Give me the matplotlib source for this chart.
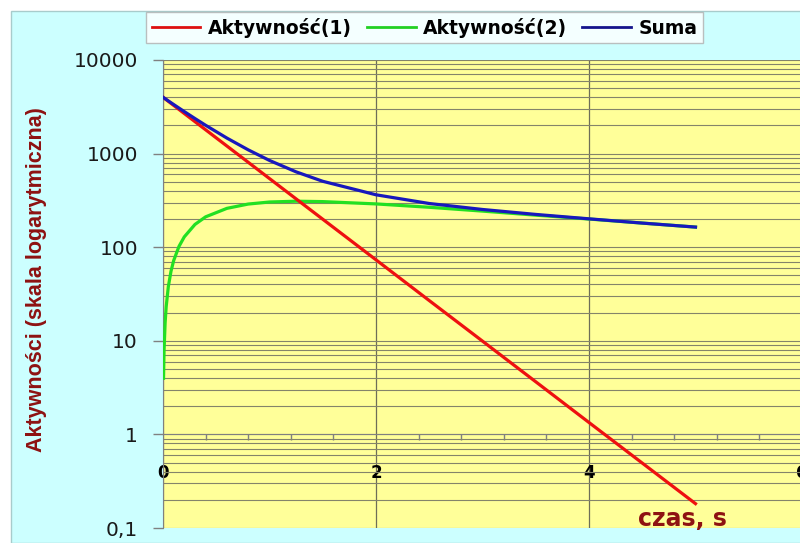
import matplotlib
matplotlib.use('Agg')
import matplotlib.pyplot as plt
from matplotlib.patches import Rectangle
from matplotlib.ticker import MultipleLocator, FixedLocator, FixedFormatter, LogLocator, NullFormatter

# time axis (s) and activities read for each series
t1 = [0, 0.01, 0.02, 0.05, 0.1, 0.2, 0.3, 0.4, 0.6, 0.8, 1.0, 1.25, 1.5,
      2.0, 2.5, 3.0, 3.5, 4.0, 4.5, 5.0]
act1 = [4000, 3921, 3843, 3619, 3275, 2681, 2195, 1797, 1205, 808, 541, 328, 199,
        73.3, 26.9, 9.92, 3.65, 1.34, 0.494, 0.182]

t2 = [0.005, 0.01, 0.02, 0.03, 0.05, 0.075, 0.1, 0.15, 0.2, 0.3, 0.4, 0.6, 0.8,
      1.0, 1.25, 1.5, 2.0, 2.5, 3.0, 3.5, 4.0, 4.5, 5.0]
act2 = [3.98, 7.91, 15.6, 23.2, 37.9, 55.3, 71.8, 102, 129, 175, 211, 260, 289,
        304, 310, 307, 290, 267, 243, 220, 200, 181, 164]

t_sum = [0, 0.01, 0.02, 0.05, 0.1, 0.2, 0.3, 0.4, 0.6, 0.8, 1.0, 1.25, 1.5,
         2.0, 2.5, 3.0, 3.5, 4.0, 4.5, 5.0]
act_sum = [4000, 3929, 3859, 3657, 3347, 2810, 2370, 2008, 1465, 1097, 845, 638, 506,
           363, 293, 253, 224, 201, 181, 164]

labels = ['Aktywność(1)', 'Aktywność(2)', 'Suma']
y_ticks = [0.1, 1, 10, 100, 1000, 10000]
y_tick_labels = ['0,1', '1', '10', '100', '1000', '10000']

DARK_RED = '#8e1212'
GRID = '#84846a'

fig = plt.figure(figsize=(8, 5.43), dpi=100, facecolor='white')
fig.patches.append(Rectangle((11 / 800, 0), 1, 1 - 11 / 543, transform=fig.transFigure,
                             facecolor='#ccffff', edgecolor='#a8cccc', lw=1, zorder=-10))

ax = fig.add_axes([163 / 800, 1 - 528 / 543, 639 / 800, 468 / 543])
ax.set_facecolor('#ffff99')

ax.plot(t2, act2, color='#22e022', lw=2.3, zorder=3)
ax.plot(t1, act1, color='#ee1010', lw=2.3, zorder=4)
ax.plot(t_sum, act_sum, color='#1818bc', lw=2.3, zorder=5)

ax.set_yscale('log')
ax.set_ylim(0.1, 10000)
ax.set_xlim(0, 6)

ax.yaxis.set_major_locator(FixedLocator(y_ticks))
ax.yaxis.set_major_formatter(FixedFormatter(y_tick_labels))
ax.yaxis.set_minor_locator(LogLocator(base=10, subs=range(2, 10), numticks=20))
ax.yaxis.set_minor_formatter(NullFormatter())
ax.tick_params(axis='y', which='major', length=7, width=1, color='#808080',
               pad=11, labelsize=14.5, labelcolor='#1a1a1a')
ax.tick_params(axis='y', which='minor', length=0)

# x axis crosses the value axis at 1
ax.spines['bottom'].set_position(('data', 1))
ax.spines['bottom'].set_color('#808080')
ax.spines['left'].set_color('#808080')
ax.spines['top'].set_visible(False)
ax.spines['right'].set_visible(False)
ax.xaxis.set_major_locator(MultipleLocator(2))
ax.xaxis.set_minor_locator(MultipleLocator(0.4))
ax.tick_params(axis='x', which='major', length=0, pad=21, labelsize=12)
ax.tick_params(axis='x', which='minor', length=4, width=1, color='#808080', direction='out')
for lbl in ax.get_xticklabels():
    lbl.set_fontweight('bold')

ax.grid(True, which='major', axis='x', color='#6e6e58', lw=0.9, zorder=1)
ax.grid(True, which='both', axis='y', color=GRID, lw=0.8, zorder=1)
ax.set_axisbelow(True)

ax.set_ylabel('Aktywności (skala logarytmiczna)', family='Liberation Sans', fontweight='bold',
              fontsize=15.5, color=DARK_RED)
ax.yaxis.set_label_coords(47 / 800, 1 - 280 / 543, transform=fig.transFigure)
fig.text(682 / 800, 1 - 519 / 543, 'czas, s', fontsize=17, fontweight='bold',
         color=DARK_RED, ha='center', va='center')

handles = [plt.Line2D([], [], color=c, lw=2) for c in ('#dd1010', '#22d022', '#14148c')]
leg = fig.legend(handles, labels, loc='upper center', ncol=3,
                 bbox_to_anchor=(424.5 / 800, 1 - 12 / 543),
                 prop={'weight': 'bold', 'size': 13.5}, frameon=True, fancybox=False,
                 handlelength=2.6, handletextpad=0.4, columnspacing=0.8,
                 borderpad=0.3, borderaxespad=0)
leg.get_frame().set_edgecolor('#b0b0b0')
leg.get_frame().set_linewidth(1)

fig.savefig('out.png', dpi=100, facecolor=fig.get_facecolor())
